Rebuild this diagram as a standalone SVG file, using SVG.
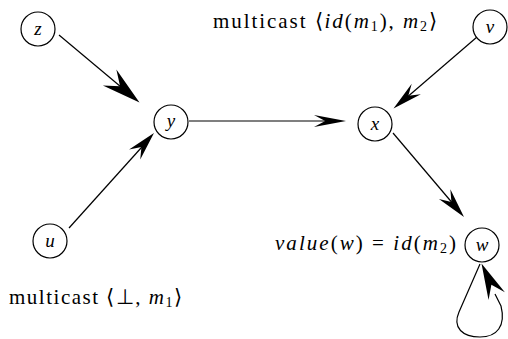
<svg xmlns="http://www.w3.org/2000/svg" width="508" height="339" viewBox="0 0 508 339">
<style>
.n{fill:#fff;stroke:#000;stroke-width:1.2}
.lb{font-family:"Liberation Serif",serif;font-style:italic;font-size:19px;text-anchor:middle}
.e{fill:none;stroke:#000;stroke-width:1.2}
.t{font-family:"Liberation Serif",serif;font-size:21px}
.i{font-style:italic}
.s{font-size:14px}
</style>
<defs>
<path id="ah" d="M0,0 L-1,-1 L-0.65,0 L-1,1 Z" fill="#000"/>
</defs>
<rect width="508" height="339" fill="#fff"/>
<g id="edges">
<line class="e" x1="59" y1="35" x2="133" y2="97"/>
<use href="#ah" transform="translate(139.5,102.5) rotate(40) scale(39,10.5)"/>
<line class="e" x1="69" y1="228" x2="150" y2="138"/>
<use href="#ah" transform="translate(154,133) rotate(-48.2) scale(29,7.5)"/>
<line class="e" x1="189" y1="121" x2="340" y2="121"/>
<use href="#ah" transform="translate(346,121) rotate(0) scale(32,6)"/>
<line class="e" x1="477" y1="37" x2="398" y2="105"/>
<use href="#ah" transform="translate(393.5,108.5) rotate(139.4) scale(30,7)"/>
<line class="e" x1="393" y1="133" x2="460" y2="212"/>
<use href="#ah" transform="translate(464,217) rotate(49.8) scale(30,7.5)"/>
<path class="e" d="M480,264 L459,312 C452,328 463,337 480,337 C497,337 506,326 501,306 L495,294"/>
<use href="#ah" transform="translate(481.5,263.5) rotate(-115) scale(36,9)"/>
</g>
<g id="z"><circle class="n" cx="38" cy="29" r="17"/><text class="lb" x="38" y="35">z</text></g>
<g id="y"><circle class="n" cx="171" cy="122" r="17"/><text class="lb" x="171" y="127">y</text></g>
<g id="x"><circle class="n" cx="375" cy="124" r="17"/><text class="lb" x="375" y="130">x</text></g>
<g id="v"><circle class="n" cx="490" cy="27" r="17"/><text class="lb" x="490" y="33">v</text></g>
<g id="u"><circle class="n" cx="50" cy="241" r="17"/><text class="lb" x="50" y="247">u</text></g>
<g id="w"><circle class="n" cx="482" cy="245" r="17"/><text class="lb" x="482" y="251">w</text></g>
<g id="labels">
<text class="t" x="213" y="28" textLength="224" lengthAdjust="spacing">multicast ⟨<tspan class="i">id</tspan>(<tspan class="i">m</tspan><tspan class="s" dy="3">1</tspan><tspan dy="-3">), </tspan><tspan class="i">m</tspan><tspan class="s" dy="3">2</tspan><tspan dy="-3">⟩</tspan></text>
<text class="t" x="9" y="304" textLength="173" lengthAdjust="spacing">multicast ⟨⊥, <tspan class="i">m</tspan><tspan class="s" dy="3">1</tspan><tspan dy="-3">⟩</tspan></text>
<text class="t" x="275" y="250" textLength="181" lengthAdjust="spacing"><tspan class="i">value</tspan>(<tspan class="i">w</tspan>) = <tspan class="i">id</tspan>(<tspan class="i">m</tspan><tspan class="s" dy="3">2</tspan><tspan dy="-3">)</tspan></text>
</g>
</svg>
